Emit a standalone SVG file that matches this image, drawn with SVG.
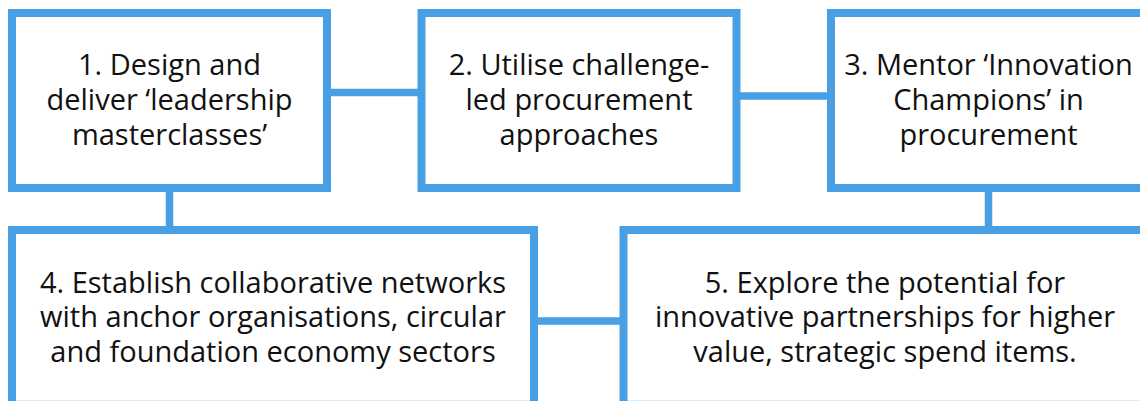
<svg xmlns="http://www.w3.org/2000/svg" width="1140" height="401" viewBox="0 0 1140 401">
<style>
.box{fill:#ffffff;stroke:#499fe4;stroke-width:8}
.con{stroke:#499fe4;stroke-width:7.5;fill:none}
.t{font-family:"Open Sans","Noto Sans","DejaVu Sans",sans-serif;font-size:29px;fill:#111111;text-anchor:middle}
</style>
<rect width="1140" height="401" fill="#ffffff"/>
<g id="connectors">
<line class="con" x1="327" y1="92.5" x2="421.5" y2="92.5"/>
<line class="con" x1="736.5" y1="96" x2="831" y2="96"/>
<line class="con" x1="169.5" y1="188" x2="169.5" y2="230"/>
<line class="con" x1="988.5" y1="188" x2="988.5" y2="230"/>
<line class="con" x1="534" y1="321" x2="623.5" y2="321"/>
</g>
<g id="node1">
<rect class="box" x="12" y="13" width="315" height="175"/>
<text class="t" x="169.5" y="75">1. Design and</text>
<text class="t" x="169.5" y="110">deliver ‘leadership</text>
<text class="t" x="169.5" y="145">masterclasses’</text>
</g>
<g id="node2">
<rect class="box" x="421.5" y="13" width="315" height="175"/>
<text class="t" x="579" y="75">2. Utilise challenge-</text>
<text class="t" x="579" y="110">led procurement</text>
<text class="t" x="579" y="145">approaches</text>
</g>
<g id="node3">
<rect class="box" x="831" y="13" width="315" height="175"/>
<text class="t" x="988.5" y="75">3. Mentor ‘Innovation</text>
<text class="t" x="988.5" y="110">Champions’ in</text>
<text class="t" x="988.5" y="145">procurement</text>
</g>
<g id="node4">
<rect class="box" x="12" y="230" width="522" height="174.8"/>
<text class="t" x="273" y="292.7">4. Establish collaborative networks</text>
<text class="t" x="273" y="327.3">with anchor organisations, circular</text>
<text class="t" x="273" y="362">and foundation economy sectors</text>
</g>
<g id="node5">
<rect class="box" x="623.5" y="230" width="523" height="174.8"/>
<text class="t" x="885" y="292.7">5. Explore the potential for</text>
<text class="t" x="885" y="327.3">innovative partnerships for higher</text>
<text class="t" x="885" y="362">value, strategic spend items.</text>
</g>
</svg>
